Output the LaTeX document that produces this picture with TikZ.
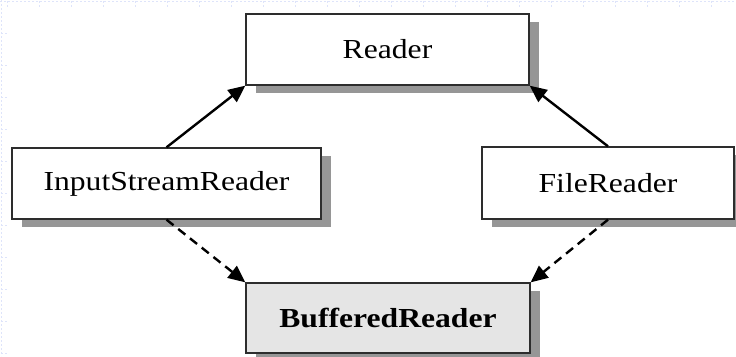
\documentclass[tikz,border=0pt]{standalone}
\usepackage{fontspec}
\setmainfont{Liberation Serif}[FakeStretch=1.15]
\usetikzlibrary{arrows.meta,shadows}
\definecolor{boxline}{RGB}{45,45,45}
\definecolor{shadowgray}{RGB}{150,150,150}
\definecolor{boldfill}{RGB}{229,229,229}
\definecolor{rulerblue}{RGB}{222,228,250}
\tikzset{
  classbox/.style={draw=boxline, line width=1.3pt, fill=white, inner sep=0pt,
    font=\fontsize{27.5}{30}\selectfont,
    drop shadow={shadow xshift=10pt, shadow yshift=-8pt, opacity=1, fill=shadowgray}},
  inherit/.style={line width=2.4pt, -{Triangle[length=17pt,width=15pt]}},
  uses/.style={inherit, dash pattern=on 9pt off 6pt},
  ruler/.style={rulerblue, line width=0.8pt, dash pattern=on 2pt off 2pt}
}
\begin{document}
\begin{tikzpicture}[x=1pt,y=-1pt]
\useasboundingbox (0,0) rectangle (736,356);
% faint ruler marks along the top and left edges
\draw[ruler] (0,1) -- (736,1);
\draw[ruler] (1,0) -- (1,356);
\foreach \t in {7,39,...,711} \draw[ruler] (\t,1) -- (\t,8);
\foreach \t in {33,65,...,353} \draw[ruler] (1,\t) -- (8,\t);

% class boxes
\node[classbox, minimum width=283pt, minimum height=71pt] (reader) at (387.5,49.5) {Reader};
\node[classbox, minimum width=309pt, minimum height=71pt] (isr) at (166.5,183.5) {InputStreamReader};
\node[classbox, minimum width=252pt, minimum height=72pt] (file) at (608,183) {FileReader};
\node[classbox, fill=boldfill, minimum width=284pt, minimum height=70pt] (buffered) at (388,318) {\bfseries BufferedReader};

% connectors
\draw[inherit] (isr.north) -- (reader.south west);
\draw[inherit] (file.north) -- (reader.south east);
\draw[uses] (isr.south) -- (buffered.north west);
\draw[uses] (file.south) -- (buffered.north east);
\end{tikzpicture}
\end{document}
